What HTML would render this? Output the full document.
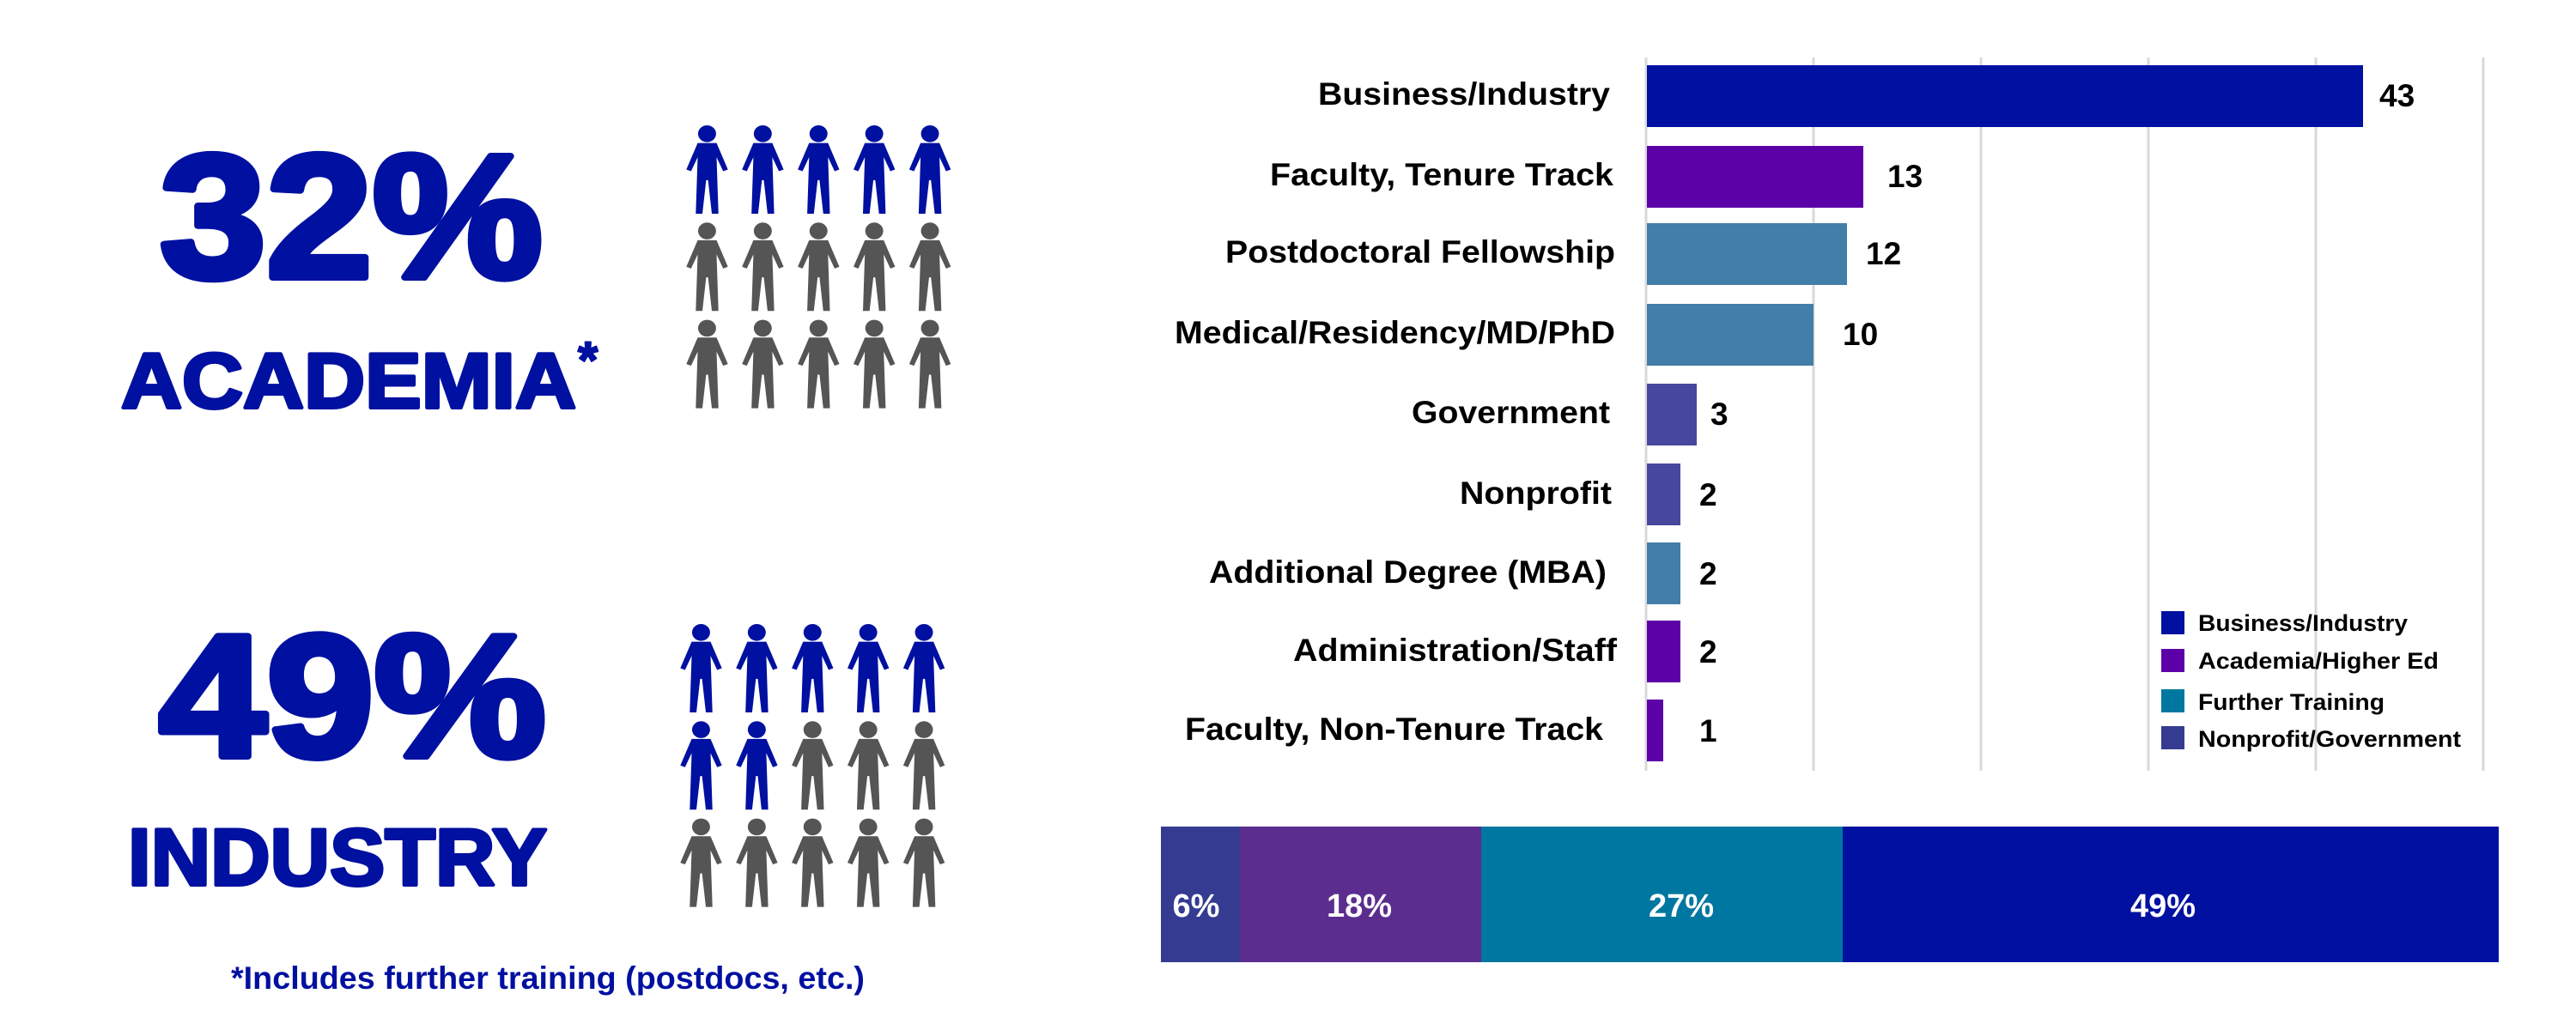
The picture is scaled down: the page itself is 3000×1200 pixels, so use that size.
<!DOCTYPE html>
<html><head><meta charset="utf-8"><style>html,body{margin:0;padding:0;background:#fff}svg{display:block}</style></head>
<body>
<svg width="3000" height="1200" viewBox="0 0 3000 1200" xmlns="http://www.w3.org/2000/svg" font-family="Liberation Sans, Arial, sans-serif" font-weight="bold">
<defs>
<path id="p" d="M15,20 H35 L47,50 L42,52 L35,36 L37,100 H30 L26,62 L24,62 L20,100 H13 L15,36 L8,52 L3,50 Z M25,0 A9.5,9.5 0 1 1 24.9,0 Z"/>
</defs>
<g fill="#0010a0" stroke="#0010a0" stroke-linejoin="round" paint-order="stroke">
<text x="186" y="323" font-size="205" stroke-width="8" textLength="446" lengthAdjust="spacingAndGlyphs">32%</text>
<text x="141" y="475" font-size="91" stroke-width="4" textLength="530" lengthAdjust="spacingAndGlyphs">ACADEMIA</text>
<text x="673" y="440" font-size="60" stroke-width="2">*</text>
<text x="185" y="881" font-size="203" stroke-width="8" textLength="451" lengthAdjust="spacingAndGlyphs">49%</text>
<text x="149" y="1031" font-size="94" stroke-width="4" textLength="488" lengthAdjust="spacingAndGlyphs">INDUSTRY</text>
</g>
<text x="269" y="1152" font-size="37" fill="#0010a0" textLength="738" lengthAdjust="spacingAndGlyphs">*Includes further training (postdocs, etc.)</text>

<g transform="translate(796,146) scale(1.1,1.03)">
<g fill="#0010a0"><use href="#p" x="0"/><use href="#p" x="59"/><use href="#p" x="118"/><use href="#p" x="177"/><use href="#p" x="236"/></g>
<g fill="#555"><use href="#p" x="0" y="110"/><use href="#p" x="59" y="110"/><use href="#p" x="118" y="110"/><use href="#p" x="177" y="110"/><use href="#p" x="236" y="110"/>
<use href="#p" x="0" y="220"/><use href="#p" x="59" y="220"/><use href="#p" x="118" y="220"/><use href="#p" x="177" y="220"/><use href="#p" x="236" y="220"/></g>
</g>
<g transform="translate(789,727) scale(1.1,1.03)">
<g fill="#0010a0"><use href="#p" x="0"/><use href="#p" x="59"/><use href="#p" x="118"/><use href="#p" x="177"/><use href="#p" x="236"/><use href="#p" x="0" y="110"/><use href="#p" x="59" y="110"/></g>
<g fill="#555"><use href="#p" x="118" y="110"/><use href="#p" x="177" y="110"/><use href="#p" x="236" y="110"/>
<use href="#p" x="0" y="220"/><use href="#p" x="59" y="220"/><use href="#p" x="118" y="220"/><use href="#p" x="177" y="220"/><use href="#p" x="236" y="220"/></g>
</g>

<g stroke="#d9d9d9" stroke-width="3">
<line x1="1917" y1="67" x2="1917" y2="898"/><line x1="2112" y1="67" x2="2112" y2="898"/><line x1="2307" y1="67" x2="2307" y2="898"/><line x1="2502" y1="67" x2="2502" y2="898"/><line x1="2697" y1="67" x2="2697" y2="898"/><line x1="2892" y1="67" x2="2892" y2="898"/>
</g>
<rect x="1918" y="76" width="834" height="72" fill="#0010a0"/>
<rect x="1918" y="170" width="252" height="72" fill="#5c00a8"/>
<rect x="1918" y="260" width="233" height="72" fill="#427ea8"/>
<rect x="1918" y="354" width="194" height="72" fill="#427ea8"/>
<rect x="1918" y="447" width="58" height="72" fill="#47479e"/>
<rect x="1918" y="540" width="39" height="72" fill="#47479e"/>
<rect x="1918" y="632" width="39" height="72" fill="#427ea8"/>
<rect x="1918" y="723" width="39" height="72" fill="#5c00a8"/>
<rect x="1918" y="815" width="19" height="72" fill="#5c00a8"/>
<g font-size="37" fill="#000" text-anchor="end">
<text x="1875" y="122" textLength="340" lengthAdjust="spacingAndGlyphs">Business/Industry</text>
<text x="1879" y="216" textLength="400" lengthAdjust="spacingAndGlyphs">Faculty, Tenure Track</text>
<text x="1881" y="306" textLength="454" lengthAdjust="spacingAndGlyphs">Postdoctoral Fellowship</text>
<text x="1881" y="400" textLength="513" lengthAdjust="spacingAndGlyphs">Medical/Residency/MD/PhD</text>
<text x="1875" y="493" textLength="231" lengthAdjust="spacingAndGlyphs">Government</text>
<text x="1877" y="587" textLength="177" lengthAdjust="spacingAndGlyphs">Nonprofit</text>
<text x="1871" y="679" textLength="463" lengthAdjust="spacingAndGlyphs">Additional Degree (MBA)</text>
<text x="1883" y="770" textLength="377" lengthAdjust="spacingAndGlyphs">Administration/Staff</text>
<text x="1867" y="862" textLength="487" lengthAdjust="spacingAndGlyphs">Faculty, Non-Tenure Track</text>
</g>
<g font-size="37" fill="#000">
<text x="2771" y="124">43</text>
<text x="2198" y="218">13</text>
<text x="2173" y="308">12</text>
<text x="2146" y="402">10</text>
<text x="1992" y="495">3</text>
<text x="1979" y="589">2</text>
<text x="1979" y="681">2</text>
<text x="1979" y="772">2</text>
<text x="1979" y="864">1</text>
</g>
<rect x="2517" y="712" width="27" height="27" fill="#0010a0"/>
<rect x="2517" y="756" width="27" height="27" fill="#5c00a8"/>
<rect x="2517" y="803" width="27" height="27" fill="#0077a0"/>
<rect x="2517" y="846" width="27" height="27" fill="#343b90"/>
<g font-size="27" fill="#000">
<text x="2560" y="735" textLength="244" lengthAdjust="spacingAndGlyphs">Business/Industry</text>
<text x="2560" y="779" textLength="280" lengthAdjust="spacingAndGlyphs">Academia/Higher Ed</text>
<text x="2560" y="827" textLength="217" lengthAdjust="spacingAndGlyphs">Further Training</text>
<text x="2560" y="870" textLength="306" lengthAdjust="spacingAndGlyphs">Nonprofit/Government</text>
</g>
<rect x="1352" y="963" width="93" height="158" fill="#343b90"/>
<rect x="1444" y="963" width="282" height="158" fill="#5b2d8e"/>
<rect x="1725" y="963" width="422" height="158" fill="#0077a0"/>
<rect x="2146" y="963" width="764" height="158" fill="#0010a0"/>
<g font-size="38" fill="#fff" text-anchor="middle">
<text x="1393" y="1068">6%</text>
<text x="1583" y="1068">18%</text>
<text x="1958" y="1068">27%</text>
<text x="2519" y="1068">49%</text>
</g>
</svg>
</body></html>
